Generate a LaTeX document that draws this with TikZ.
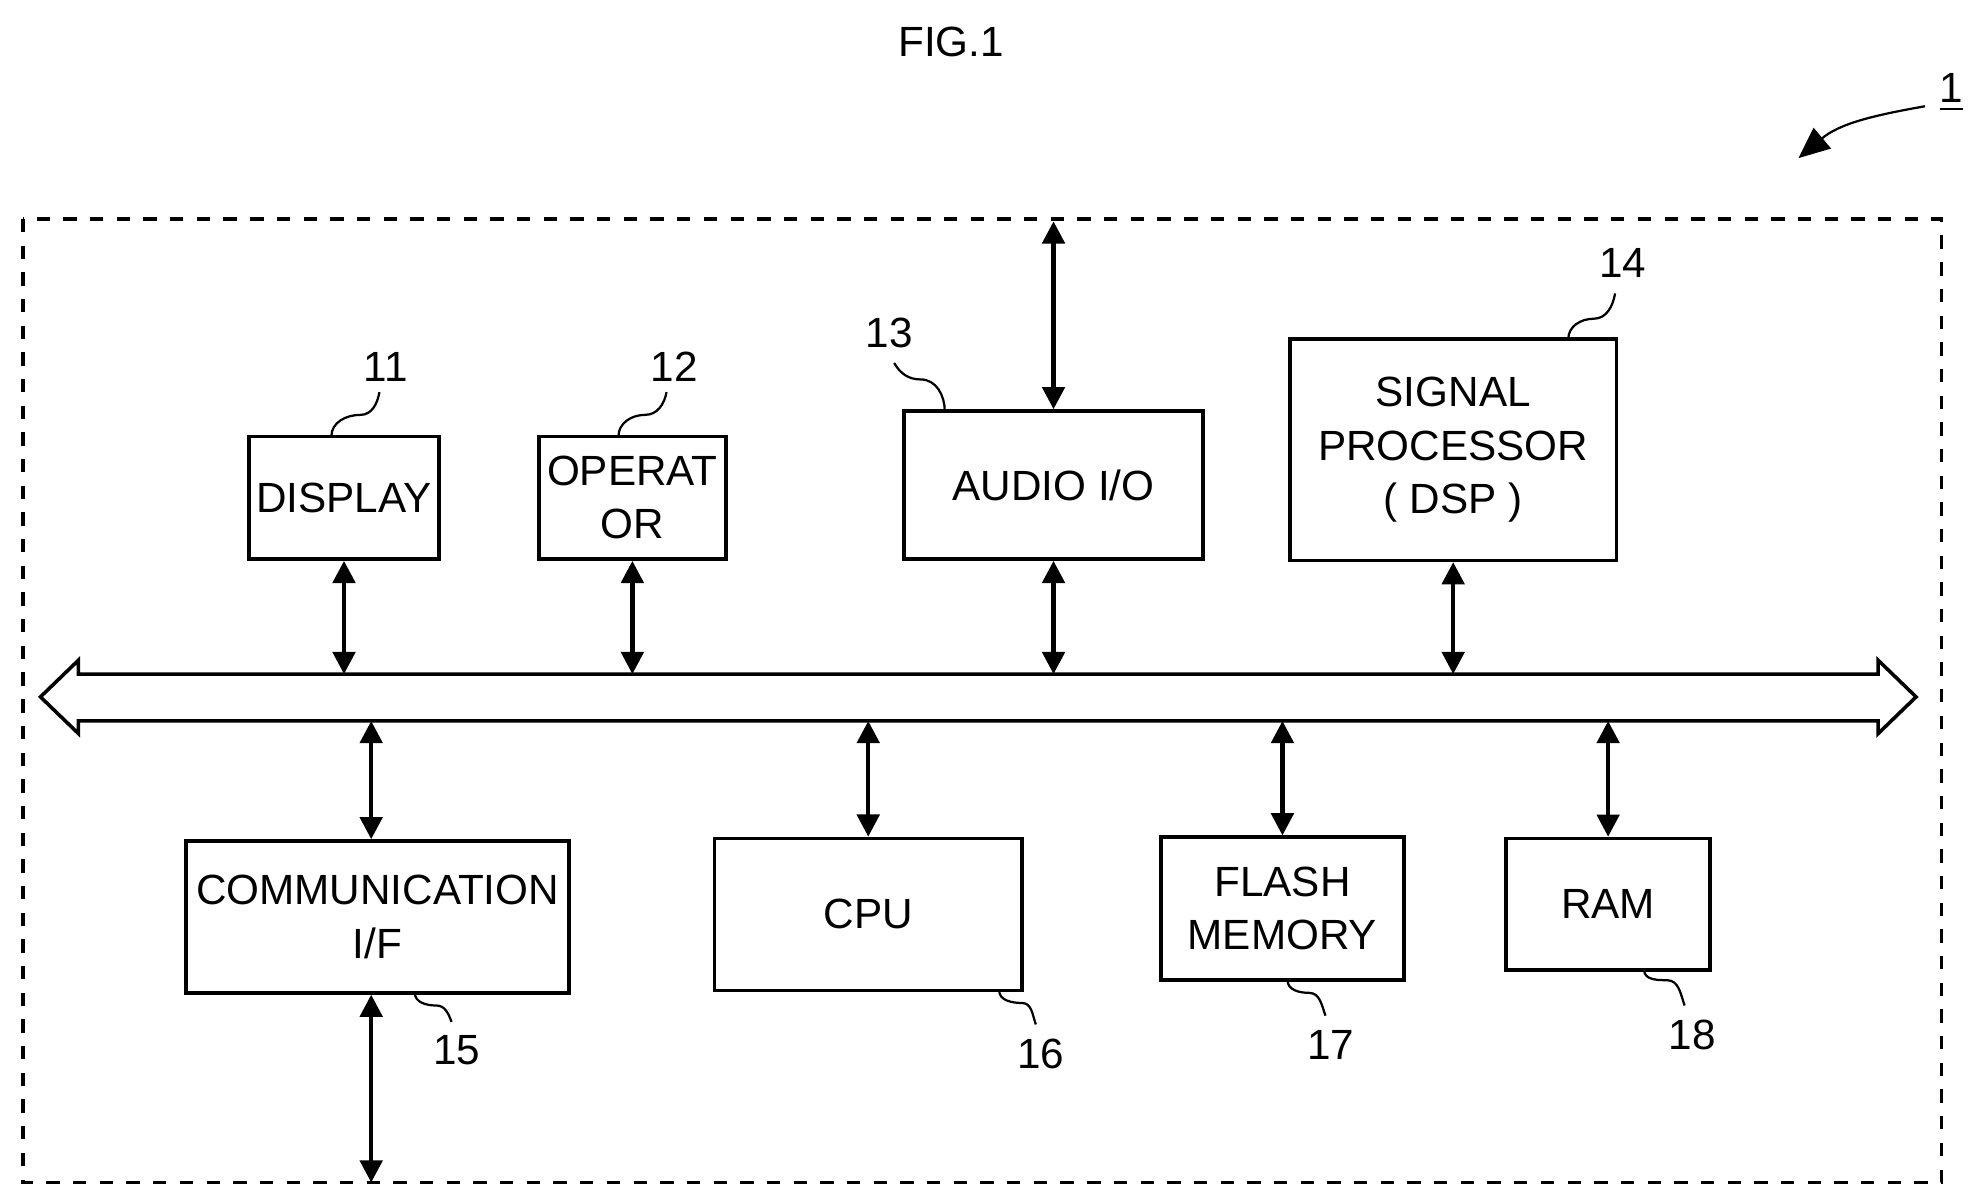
\documentclass[tikz,border=0pt]{standalone}
\usepackage{fontspec}
\setmainfont{Liberation Sans}
\usetikzlibrary{arrows.meta}

\begin{document}
\begin{tikzpicture}[x=0.01cm,y=-0.01cm,font=\fontsize{9.5}{12}\selectfont,
	box/.style={draw,line width=0.8pt,align=center,inner sep=0pt},
	link/.style={line width=1pt,{Triangle[length=5pt,width=5pt]}-{Triangle[length=5pt,width=5pt]}},
	lead/.style={line width=0.5pt}]
		\useasboundingbox (0,0) rectangle (1560,947);
		\node (fig) at (752,33) {FIG.1};
		\node (one) at (1543,73) {\underline{1}};
		\draw [lead,-{Triangle[length=7pt,width=6pt]}] (1522,84) to[out=190,in=40] (1422,125);
		\draw [dashed,line width=0.8pt] (18,173) rectangle (1535,935);
		% bus
		\draw [line width=0.8pt] (32,551) -- (62,522) -- (62,533) -- (1485,533) -- (1485,522) -- (1515,551) -- (1485,580) -- (1485,570) -- (62,570) -- (62,580) -- cycle;
		\coordinate (bustop) at (0,533);
		\coordinate (busbot) at (0,570);
		\coordinate (frametop) at (0,175);
		\coordinate (framebot) at (0,935);
		% upper blocks
		\node [box,minimum width=1.5cm,minimum height=0.97cm] (disp) at (272,393.5) {DISPLAY};
		\node [box,minimum width=1.48cm,minimum height=0.97cm] (oper) at (500,393.5) {OPERAT\\OR};
		\node [box,minimum width=2.36cm,minimum height=1.17cm] (audio) at (833,383.5) {AUDIO I/O};
		\node [box,minimum width=2.58cm,minimum height=1.75cm] (dsp) at (1149,355.5) {SIGNAL\\PROCESSOR\\( DSP )};
		% lower blocks
		\node [box,minimum width=3.03cm,minimum height=1.2cm] (comm) at (298.5,725) {COMMUNICATION\\I/F};
		\node [box,minimum width=2.43cm,minimum height=1.2cm] (cpu) at (686.5,723) {CPU};
		\node [box,minimum width=1.92cm,minimum height=1.13cm] (flash) at (1014,718.5) {FLASH\\MEMORY};
		\node [box,minimum width=1.61cm,minimum height=1.04cm] (ram) at (1271.5,715) {RAM};
		% links to bus
		\draw [link] (disp.south) -- (disp.south |- bustop);
		\draw [link] (oper.south) -- (oper.south |- bustop);
		\draw [link] (audio.south) -- (audio.south |- bustop);
		\draw [link] (dsp.south) -- (dsp.south |- bustop);
		\draw [link] (audio.north) -- (audio.north |- frametop);
		\draw [link] ([xshift=-0.05cm]comm.north) -- ([xshift=-0.05cm]comm.north |- busbot);
		\draw [link] ([xshift=-0.05cm]comm.south) -- ([xshift=-0.05cm]comm.south |- framebot);
		\draw [link] (cpu.north) -- (cpu.north |- busbot);
		\draw [link] (flash.north) -- (flash.north |- busbot);
		\draw [link] (ram.north) -- (ram.north |- busbot);
		% reference numerals
		\node (n11) at (305,290) {11};
		\node (n12) at (533,290) {12};
		\node (n13) at (703,263) {13};
		\node (n14) at (1283,208) {14};
		\node (n15) at (361,830) {15};
		\node (n16) at (823,833) {16};
		\node (n17) at (1052,826) {17};
		\node (n18) at (1338,818) {18};
		\draw [lead] (262,345) to[out=90,in=180] (285,328) to[out=0,in=-100] (300,310);
		\draw [lead] (489,345) to[out=90,in=180] (510,328) to[out=0,in=-100] (527,310);
		\draw [lead] (747,325) to[out=90,in=0] (728,300) to[out=180,in=-60] (707,287);
		\draw [lead] (1240,268) to[out=90,in=180] (1260,252) to[out=0,in=-100] (1277,232);
		\draw [lead] (328,785) to[out=-90,in=180] (345,795) to[out=0,in=110] (357,808);
		\draw [lead] (790,783) to[out=-90,in=180] (808,793) to[out=0,in=110] (819,810);
		\draw [lead] (1018,775) to[out=-90,in=180] (1035,785) to[out=0,in=110] (1048,803);
		\draw [lead] (1300,767) to[out=-90,in=180] (1318,775) to[out=0,in=110] (1332,795);
	\end{tikzpicture}
\end{document}
